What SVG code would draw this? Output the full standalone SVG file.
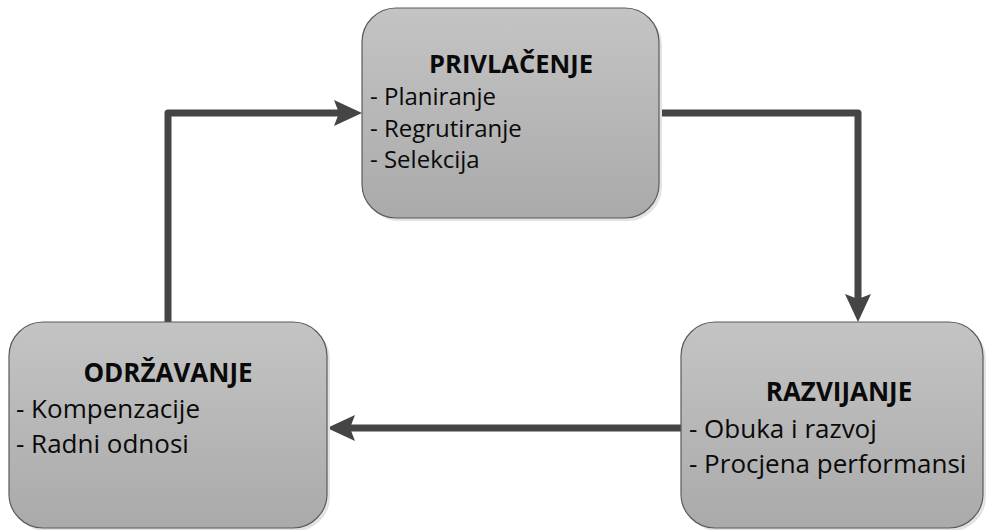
<svg xmlns="http://www.w3.org/2000/svg" width="986" height="530" viewBox="0 0 986 530">
  <defs>
    <linearGradient id="boxFill" x1="0" y1="0" x2="0" y2="1">
      <stop offset="0" stop-color="#c4c4c4"/>
      <stop offset="1" stop-color="#aaaaaa"/>
    </linearGradient>
    <marker id="arrow" markerUnits="userSpaceOnUse" viewBox="0 0 28 28" markerWidth="28" markerHeight="28" refX="4" refY="14" orient="auto">
      <path d="M0,1 L28,14 L0,27 L5,14 Z" fill="#454545"/>
    </marker>
  </defs>
  <style>
    .shadow { fill: #e3e3e3; }
    .box { fill: url(#boxFill); stroke: #5a5a5a; stroke-width: 1.2; }
    .title { font-family: "Open Sans", "Liberation Sans", sans-serif; font-weight: bold; font-size: 26px; fill: #0a0a0a; text-anchor: middle; }
    .item { font-family: "Open Sans", "Liberation Sans", sans-serif; font-size: 26px; fill: #0a0a0a; }
    .small { font-size: 24px; }
    .ttop { font-size: 25.5px; }
    .conn { fill: none; stroke: #454545; stroke-width: 7; stroke-linecap: round; stroke-linejoin: round; marker-end: url(#arrow); }
  </style>
  <rect width="986" height="530" fill="#ffffff"/>

  <g id="connectors">
    <path class="conn" d="M659,113 H858 V298"/>
    <path class="conn" d="M168,322 V113 H338"/>
    <path class="conn" d="M681,428 H351"/>
  </g>

  <g id="privlacenje">
    <rect class="shadow" x="365" y="11" width="297" height="210" rx="34" ry="34"/>
    <rect class="box" x="362" y="8" width="297" height="210" rx="34" ry="34"/>
    <text class="title ttop" x="511" y="73">PRIVLAČENJE</text>
    <text class="item small" x="370" y="105">- Planiranje</text>
    <text class="item small" x="370" y="137">- Regrutiranje</text>
    <text class="item small" x="370" y="168">- Selekcija</text>
  </g>

  <g id="odrzavanje">
    <rect class="shadow" x="12" y="325" width="318" height="206" rx="34" ry="34"/>
    <rect class="box" x="9" y="322" width="318" height="206" rx="34" ry="34"/>
    <text class="title" x="168" y="382">ODRŽAVANJE</text>
    <text class="item" x="16" y="418">- Kompenzacije</text>
    <text class="item" x="16" y="453">- Radni odnosi</text>
  </g>

  <g id="razvijanje">
    <rect class="shadow" x="684" y="325" width="302" height="206" rx="34" ry="34"/>
    <rect class="box" x="681" y="322" width="302" height="206" rx="34" ry="34"/>
    <text class="title" x="839" y="401">RAZVIJANJE</text>
    <text class="item" x="689" y="438">- Obuka i razvoj</text>
    <text class="item" x="689" y="473">- Procjena performansi</text>
  </g>
</svg>
